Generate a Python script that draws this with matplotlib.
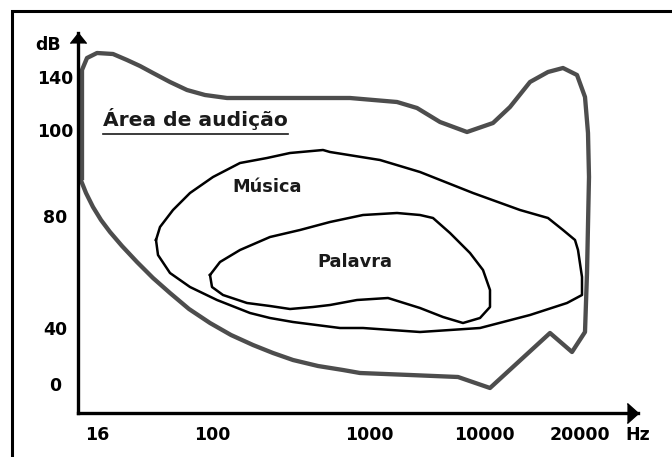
import numpy as np
import matplotlib.pyplot as plt
from matplotlib.patches import Rectangle

# eixo x: frequência (posições lidas da figura, não é escala log real)
freq_labels = ['16', '100', '1000', '10000', '20000', 'Hz']
freq_pos = [19, 134, 291, 406, 502, 560]
# eixo y: nível sonoro
db_labels = ['0', '40', '80', '100', '140']
db_pos = [29, 85, 197, 283, 336]

# contorno da área de audição (limiar de audição + limiar de dor)
audicao_x = [4, 4, 4, 9, 19, 35, 49, 62, 75, 92, 109, 127, 149, 222, 272, 319, 339, 362, 389,
             415, 432, 452, 470, 485, 499, 507, 510, 511, 509, 507, 494, 472, 412, 380, 332,
             282, 265, 240, 215, 195, 175, 153, 132, 111, 92, 75, 59, 44, 32, 23, 15, 8, 2]
audicao_y = [235, 293, 343, 355, 360, 359, 353, 347, 340, 331, 323, 318, 315, 315, 315, 311, 305, 291, 281,
             290, 306, 331, 341, 345, 338, 316, 280, 236, 140, 81, 61, 80, 25, 36, 38,
             40, 43, 47, 53, 60, 68, 78, 90, 104, 120, 135, 151, 167, 181, 193, 206, 220, 235]

# região da música
musica_x = [78, 80, 92, 112, 139, 172, 192, 215, 262, 285, 342, 402, 452, 489, 504, 504, 500,
            497, 485, 470, 442, 395, 342, 302, 252, 245, 212, 189, 162, 135, 112, 95, 82, 78]
musica_y = [173, 158, 140, 126, 113, 100, 95, 91, 85, 85, 81, 85, 98, 110, 118, 136, 163,
            173, 183, 195, 203, 220, 241, 253, 261, 263, 260, 255, 250, 236, 220, 203, 186, 173]

# região da palavra (fala)
palavra_x = [132, 134, 145, 169, 192, 212, 235, 252, 279, 310, 342, 365, 385, 402, 412, 412,
             405, 392, 372, 355, 342, 319, 285, 252, 222, 192, 162, 142, 132]
palavra_y = [138, 126, 118, 110, 107, 104, 106, 108, 113, 115, 105, 96, 90, 95, 106, 123,
             143, 160, 180, 195, 198, 200, 198, 191, 183, 176, 163, 151, 138]

W, H = 672, 457
fig = plt.figure(figsize=(W / 100, H / 100), dpi=100)
ax = fig.add_axes([78 / W, (H - 413) / H, 560 / W, 380 / H])
ax.set_xlim(0, 560)
ax.set_ylim(0, 380)

fnt = dict(family='DejaVu Sans', weight='bold')

ax.plot(audicao_x, audicao_y, color='#4d4d4d', lw=3.1, solid_joinstyle='round', clip_on=False)
ax.plot(musica_x, musica_y, color='black', lw=1.8, solid_joinstyle='round')
ax.plot(palavra_x, palavra_y, color='black', lw=1.8, solid_joinstyle='round')

t = ax.text(25, 294.5, 'Área de audição', fontsize=14.6, color='#1a1a1a', va='center', ha='left', **fnt)
ax.text(189, 226, 'Música', fontsize=12.8, color='#1a1a1a', ha='center', va='center', **fnt)
ax.text(277, 151, 'Palavra', fontsize=12.8, color='#1a1a1a', ha='center', va='center', **fnt)

# eixos com setas
for s in ['top', 'right']:
    ax.spines[s].set_visible(False)
for s in ['left', 'bottom']:
    ax.spines[s].set_linewidth(2.4)
    ax.spines[s].set_color('black')
ax.plot(1, 0, marker=[(-1, -0.9), (0, 0), (-1, 0.9)], ms=16, color='black',
        transform=ax.transAxes, clip_on=False)
ax.plot(0, 1, marker=[(-0.8, -1), (0, 0), (0.8, -1)], ms=14.5, color='black',
        transform=ax.transAxes, clip_on=False)

ax.set_xticks(freq_pos, freq_labels)
ax.set_yticks(db_pos, db_labels)
ax.tick_params(length=0, labelsize=12.5)
ax.tick_params(axis='x', pad=9)
ax.tick_params(axis='y', pad=16.5)
for lab in ax.get_xticklabels() + ax.get_yticklabels():
    lab.set_fontweight('bold')
for lab in ax.get_yticklabels():
    lab.set_horizontalalignment('center')
ax.text(-30, 368, 'dB', fontsize=12.5, ha='center', va='center', **fnt)
ax.set_facecolor('none')

# sublinhado do título da área
fig.canvas.draw()
bb = t.get_window_extent().transformed(ax.transData.inverted())
ax.plot([bb.x0, bb.x1], [279.5, 279.5], color='#1a1a1a', lw=1.2)

# moldura da figura
fig.patches.append(Rectangle((12 / W, -0.1), 1.2, 1.1 - 11 / H, transform=fig.transFigure,
                             fill=False, lw=2.2, ec='black'))

fig.savefig('out.png', dpi=100)
